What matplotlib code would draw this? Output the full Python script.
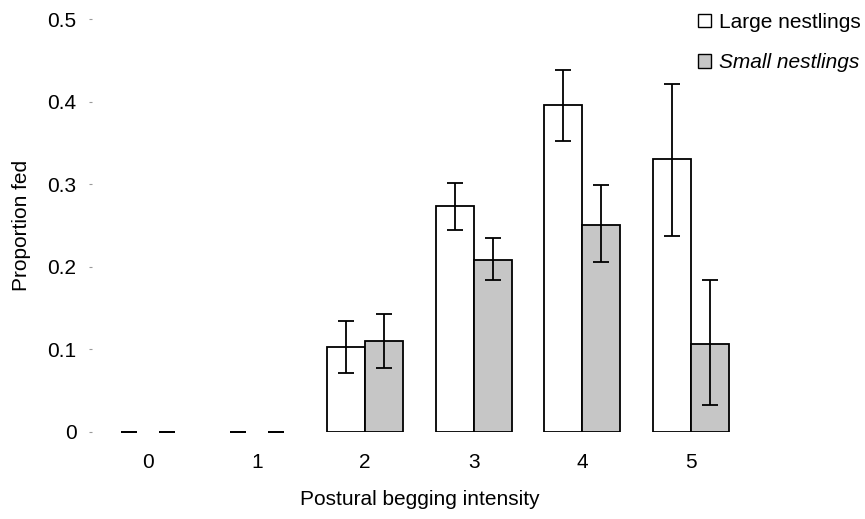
import matplotlib.pyplot as plt
import numpy as np

plt.rcParams["font.family"] = ["Liberation Sans", "DejaVu Sans"]

intensity = [0, 1, 2, 3, 4, 5]
large_mean = [0.0, 0.0, 0.103, 0.274, 0.396, 0.330]
large_lo = [0.0, 0.0, 0.071, 0.245, 0.353, 0.237]
large_hi = [0.0, 0.0, 0.134, 0.301, 0.439, 0.422]
small_mean = [0.0, 0.0, 0.110, 0.208, 0.251, 0.107]
small_lo = [0.0, 0.0, 0.077, 0.184, 0.206, 0.033]
small_hi = [0.0, 0.0, 0.143, 0.235, 0.299, 0.184]

x = np.arange(len(intensity))
w = 0.35

fig = plt.figure(figsize=(8.65, 5.19), dpi=100)
ax = fig.add_axes([0.106, 0.168, 0.758, 0.795])


def draw(offset, mean, lo, hi, face, label):
    mean = np.array(mean)
    err = [mean - np.array(lo), np.array(hi) - mean]
    # zero-height bars get no outline, only the error caps show at 0
    lw = [1.3 if v > 0 else 0 for v in mean]
    ax.bar(x + offset, mean, width=w, color=face, edgecolor="black",
           linewidth=lw, label=label, zorder=2)
    ax.errorbar(x + offset, mean, yerr=err, fmt="none", ecolor="black",
                elinewidth=1.3, capsize=5.5, capthick=1.3, zorder=3)


draw(-w / 2, large_mean, large_lo, large_hi, "white", "Large nestlings")
draw(w / 2, small_mean, small_lo, small_hi, "#c6c6c6", "Small nestlings")

ax.set_xlim(-0.52, 5.52)
ax.set_ylim(0, 0.5)
ax.set_xticks(x)
ax.set_xticklabels([str(i) for i in intensity])
ax.set_yticks([0, 0.1, 0.2, 0.3, 0.4, 0.5])
ax.set_yticklabels(["0", "0.1", "0.2", "0.3", "0.4", "0.5"])
ax.tick_params(axis="x", length=0, labelsize=15, pad=15)
ax.tick_params(axis="y", length=2, color="#999999", labelsize=15, pad=9)
for s in ax.spines.values():
    s.set_visible(False)

ax.set_xlabel("Postural begging intensity", fontsize=15, labelpad=13)
ax.set_ylabel("Proportion fed", fontsize=15, labelpad=12)

leg = fig.legend(loc="upper right", bbox_to_anchor=(1.017, 1.012), frameon=False,
                 fontsize=15, handlelength=0.6, handleheight=0.6,
                 handletextpad=0.4, labelspacing=1.05)
for h in leg.legend_handles:
    h.set_linewidth(1.0)
leg.get_texts()[1].set_fontstyle("italic")

fig.savefig("out.png", dpi=100)
